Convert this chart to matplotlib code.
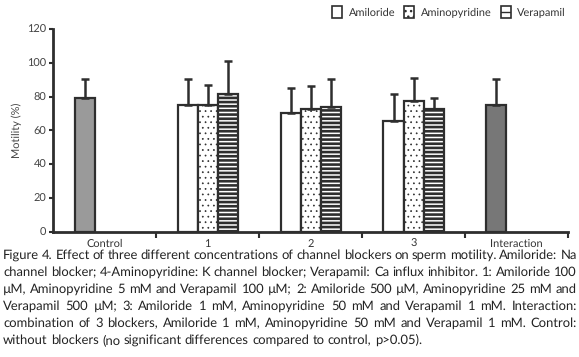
import matplotlib
matplotlib.use('Agg')
from matplotlib import pyplot as plt, patches
import numpy as np

FONT = 'Lato'
plt.rcParams['font.family'] = [FONT, 'DejaVu Sans']
plt.rcParams['text.hinting'] = 'no_hinting'
plt.rcParams['text.hinting_factor'] = 1

groups = ['Control', '1', '2', '3', 'Interaction']
series = ['Amiloride', 'Aminopyridine', 'Verapamil']

# mean motility and upper error (mean + SD) per group
control_mean, control_err = 79, 90.5
interaction_mean, interaction_err = 75, 90.7
amiloride_mean = [75.3, 70.5, 65.4]
amiloride_err = [90.5, 85.0, 81.4]
aminopyridine_mean = [75.3, 72.5, 77.5]
aminopyridine_err = [87.1, 86.4, 91.1]
verapamil_mean = [81.8, 73.7, 72.5]
verapamil_err = [101.4, 90.3, 79.4]

caption_lines = [
    'Figure 4. Effect of three different concentrations of channel blockers on sperm motility. Amiloride: Na',
    'channel blocker; 4-Aminopyridine: K channel blocker; Verapamil: Ca influx inhibitor. 1: Amiloride 100',
    '\u00b5M, Aminopyridine 5 mM and Verapamil 100 \u00b5M; 2: Amiloride 500 \u00b5M, Aminopyridine 25 mM and',
    'Verapamil 500 \u00b5M; 3: Amiloride 1 mM, Aminopyridine 50 mM and Verapamil 1 mM. Interaction:',
    'combination of 3 blockers, Amiloride 1 mM, Aminopyridine 50 mM and Verapamil 1 mM. Control:',
    'without blockers (no significant differences compared to control, p>0.05).',
]

EDGE = '#2e2e2e'
W = 0.195
DOTS = '...'
STRIPES = '----'

fig = plt.figure(figsize=(5.79, 3.57), dpi=100)
ax = fig.add_axes([0.092, 0.351, 0.889, 0.567])

centers = np.arange(len(groups)) + 0.5
err_kw = dict(ecolor=EDGE, elinewidth=1.8, capsize=3, capthick=1.8)


def bar(x, mean, top, hlw=1.3, **kw):
    with plt.rc_context({'hatch.linewidth': hlw}):
        ax.bar(x, mean, W, yerr=[[0], [top - mean]], edgecolor=EDGE, linewidth=1.6,
               error_kw=err_kw, zorder=2, **kw)


bar(centers[0] - W, control_mean, control_err, color='#9a9a9a')
bar(centers[4] - W, interaction_mean, interaction_err, color='#777777')
for i in range(3):
    c = centers[i + 1]
    bar(c - W, amiloride_mean[i], amiloride_err[i], color='white')
    bar(c, aminopyridine_mean[i], aminopyridine_err[i], hlw=0.5, color='white', hatch=DOTS)
    bar(c + W, verapamil_mean[i], verapamil_err[i], hlw=1.9, color='white', hatch=STRIPES)

ax.set_xlim(0, 5)
ax.set_ylim(0, 120)
ax.set_yticks(np.arange(0, 121, 20))
ax.set_xticks(np.arange(1, 6), minor=False)
ax.set_xticklabels([])
ax.set_xticks(centers, minor=True)
ax.set_xticklabels(groups, minor=True)
ax.tick_params(axis='x', which='minor', length=0, pad=5, labelsize=8, labelcolor='#333333')
ax.tick_params(axis='x', which='major', length=4, width=1.5, color=EDGE)
ax.tick_params(axis='y', length=3, width=1.5, color=EDGE, labelsize=8, labelcolor='#444444', pad=2)
for s in ['top', 'right']:
    ax.spines[s].set_visible(False)
for s in ['left', 'bottom']:
    ax.spines[s].set_linewidth(2)
    ax.spines[s].set_color(EDGE)
ax.set_ylabel('Motility (%)', fontsize=8, color='#444444', labelpad=4)

with plt.rc_context({'hatch.linewidth': 0.5}):
    h_dots = patches.Patch(facecolor='white', edgecolor=EDGE, linewidth=1.2, hatch=DOTS, label=series[1])
with plt.rc_context({'hatch.linewidth': 2.5}):
    h_stripes = patches.Patch(facecolor='white', edgecolor=EDGE, linewidth=1.2, hatch='--', label=series[2])
handles = [
    patches.Patch(facecolor='white', edgecolor=EDGE, linewidth=1.2, label=series[0]),
    h_dots,
    h_stripes,
]
fig.legend(handles=handles, loc='upper right', bbox_to_anchor=(0.995, 1.01), ncol=3,
           frameon=False, fontsize=8, handlelength=0.9, handleheight=1.2,
           handletextpad=0.6, columnspacing=0.8, labelcolor='#333333')

# justified caption, drawn word by word
renderer = fig.canvas.get_renderer()
left_px, right_px = 3, 577
size = 9.6
y0 = 357 - 259
for n, line in enumerate(caption_lines):
    words = line.split(' ')
    y = (y0 - n * 17) / 357
    texts = [fig.text(0, y, w, fontsize=size, color='#222222', va='baseline') for w in words]
    widths = [t.get_window_extent(renderer).width for t in texts]
    if n < len(caption_lines) - 1:
        gap = (right_px - left_px - sum(widths)) / (len(words) - 1)
    else:
        gap = fig.text(0, 0, ' ', fontsize=size).get_window_extent(renderer).width
    x = left_px
    for t, w in zip(texts, widths):
        t.set_x(x / 579)
        x += w + gap

fig.savefig('out.png', dpi=100)
